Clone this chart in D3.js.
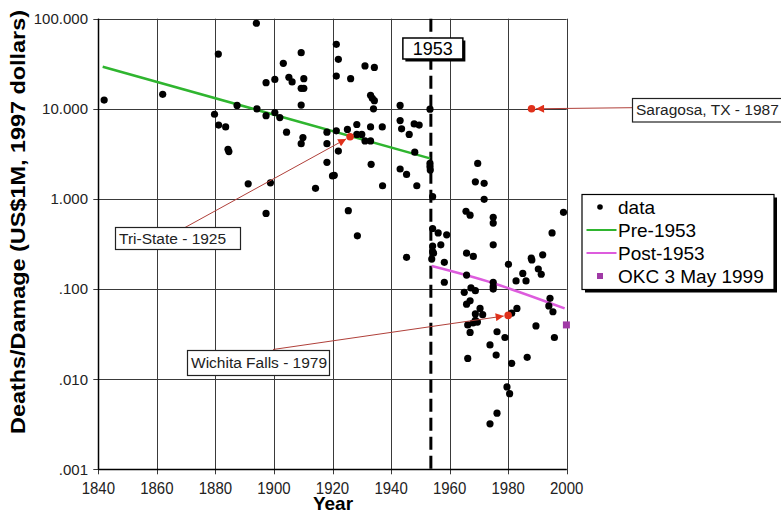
<!DOCTYPE html>
<html><head><meta charset="utf-8">
<script src="https://cdn.jsdelivr.net/npm/d3@7"></script>
<style>html,body{margin:0;padding:0;background:#fff;} svg{display:block;font-family:"Liberation Sans",Arial,sans-serif;}</style>
</head><body><svg id="c" width="781" height="513"></svg>
<script>
// ---------- data ----------
const xTicks = [1840, 1860, 1880, 1900, 1920, 1940, 1960, 1980, 2000];
const yTicks = [0.001, 0.01, 0.1, 1, 10, 100];
const yTickLabels = [".001", ".010", ".100", "1.000", "10.000", "100.000"];
const xTitle = "Year";
const yTitle = "Deaths/Damage (US$1M, 1997 dollars)";

// [year, deaths per US$1M damage]
const points = [
  [1842,12.5],[1862,14.5],[1881,40.5],[1894,89],[1887.4,10.9],[1894.2,10.0],[1879.7,8.7],[1881.1,6.6],
  [1883.5,6.3],[1884.3,3.55],[1884.6,3.35],[1891.2,1.47],[1909.3,42],[1903.2,32],[1897.3,19.5],[1900.3,21.2],
  [1905.1,22.4],[1906.2,19.9],[1910.2,21.6],[1909.3,16.9],[1910.2,16.9],[1909.3,11.0],[1921.3,52],[1922.0,35.4],
  [1921.3,23.1],[1926.2,21.6],[1931.1,29.9],[1934.3,28.8],[1933,14.1],[1933.6,13.1],[1934.3,12.3],[1934,10.0],
  [1943.1,10.9],[1953.3,9.9],[1897.3,8.4],[1900.3,9.1],[1902,8.0],[1904.3,5.5],[1909.9,4.8],[1909.3,4.1],
  [1918.1,5.5],[1918.1,4.1],[1921.3,5.7],[1925.1,5.9],[1928.3,6.7],[1928.3,5.2],[1930,5.2],[1931.1,4.4],
  [1933,4.4],[1933,6.3],[1937,6.3],[1922,3.4],[1918.1,2.55],[1920,1.8],[1920.6,1.83],[1914.2,1.31],
  [1933.2,2.42],[1937.1,1.40],[1943.1,7.4],[1943.6,6.0],[1946.2,5.2],[1947.9,6.8],[1949.6,6.6],[1948.1,3.3],
  [1943.1,2.15],[1945.3,1.87],[1948.8,1.40],[1953.3,2.48],[1953.3,2.28],[1953.4,2.09],[1954.2,1.06],[1898.8,1.51],
  [1897.3,0.69],[1925.4,0.74],[1928.5,0.39],[1945.3,0.225],
  [1954.2,0.47],[1956.1,0.42],[1959,0.40],[1954.2,0.30],[1957,0.31],[1954.2,0.26],[1954.5,0.25],[1953.9,0.215],
  [1958.2,0.198],[1958.2,0.119],[1969.6,2.48],[1968.8,1.55],[1971.8,1.49],[1971.8,0.99],[1965.6,0.73],[1967,0.66],
  [1974.9,0.625],[1974.9,0.54],[1974.9,0.31],[1998.9,0.71],[1995,0.42],[1965.8,0.25],[1968.1,0.23],[1987.9,0.22],
  [1991.8,0.24],[1965.8,0.143],[1965,0.092],[1967.3,0.103],[1968.8,0.096],[1967,0.074],[1965.8,0.068],[1970.4,0.061],
  [1968.8,0.053],[1971.3,0.052],[1968.8,0.045],[1968,0.042],[1969.5,0.043],[1966.2,0.040],[1967,0.033],[1966.2,0.017],
  [1974.9,0.119],[1974.9,0.107],[1974.9,0.10],[1973.8,0.024],[1975.9,0.0185],[1976.2,0.0336],[1978.9,0.029],
  [1980.1,0.188],[1981.2,0.054],[1983,0.061],[1981.2,0.015],[1979.6,0.0082],[1980.5,0.0069],[1976.2,0.0042],
  [1973.8,0.0032],[1982.7,0.123],[1985,0.149],[1986.1,0.123],[1988.1,0.21],[1990.3,0.167],[1991.3,0.146],
  [1994.3,0.079],[1993.9,0.065],[1995.3,0.056],[1989.5,0.039],[1995.8,0.029],[1986.5,0.0175]
];
const preFit = [[1841.5,29.3],[1953.3,2.82]];
const postFit = [[1953.9,0.18],[1975,0.116],[1999.3,0.061]];
const okc = [[1999.9,0.040]];
const dividerYear = 1953.6;
const dividerLabel = "1953";
const annotations = [
  {label:"Tri-State - 1925", year:1926, value:4.9},
  {label:"Wichita Falls - 1979", year:1980, value:0.051},
  {label:"Saragosa, TX - 1987", year:1988, value:10}
];
const legendItems = ["data", "Pre-1953", "Post-1953", "OKC 3 May 1999"];

// ---------- layout ----------
const svg = d3.select("#c");
const x = d3.scaleLinear().domain([1840, 2000]).range([98.3, 566.7]);
const y = d3.scaleLog().domain([0.001, 100]).range([469.3, 18.7]);
const X0 = x.range()[0], X1 = x.range()[1], Y0 = y.range()[0], Y1 = y.range()[1];

// grid
const grid = svg.append("g").attr("stroke", "#3a3a3a").attr("stroke-width", 1);
grid.selectAll("line.v").data(xTicks).join("line")
  .attr("x1", d => Math.round(x(d)) + 0.5).attr("x2", d => Math.round(x(d)) + 0.5)
  .attr("y1", Y1).attr("y2", Y0 + 5);
grid.selectAll("line.h").data(yTicks).join("line")
  .attr("y1", d => Math.round(y(d)) + 0.5).attr("y2", d => Math.round(y(d)) + 0.5)
  .attr("x1", X0 - 5).attr("x2", X1);
// axis lines
svg.append("line").attr("x1", Math.round(X0)+0.5).attr("x2", Math.round(X0)+0.5).attr("y1", Y1).attr("y2", Y0)
  .attr("stroke", "#000").attr("stroke-width", 1.5);
svg.append("line").attr("x1", X0).attr("x2", X1).attr("y1", Math.round(Y0)+0.5).attr("y2", Math.round(Y0)+0.5)
  .attr("stroke", "#000").attr("stroke-width", 1.5);

// tick labels
svg.append("g").selectAll("text").data(yTicks).join("text")
  .attr("x", 88).attr("y", d => y(d)).attr("dy", "0.36em")
  .attr("text-anchor", "end").attr("font-size", 15).attr("fill", "#222")
  .text((d, i) => yTickLabels[i]);
svg.append("g").selectAll("text").data(xTicks).join("text")
  .attr("transform", d => `translate(${x(d)},${Y0 + 24.5}) scale(1,1.15)`)
  .attr("text-anchor", "middle").attr("font-size", 15).attr("fill", "#222")
  .text(d => d);

// titles
svg.append("text").attr("transform", `translate(333,509.5)`)
  .attr("text-anchor", "middle").attr("font-size", 19).attr("font-weight", "bold").text(xTitle);
svg.append("text").attr("transform", `translate(25,222) rotate(-90)`)
  .attr("text-anchor", "middle").attr("font-size", 20).attr("font-weight", "bold")
  .attr("textLength", 424).attr("lengthAdjust", "spacingAndGlyphs").text(yTitle);

// divider
const dx = x(dividerYear);
svg.append("line").attr("x1", dx).attr("x2", dx).attr("y1", Y1).attr("y2", Y0)
  .attr("stroke", "#000").attr("stroke-width", 3).attr("stroke-dasharray", "13,6");

// fit lines
const line = d3.line().x(d => x(d[0])).y(d => y(d[1]));
svg.append("path").attr("d", line(preFit)).attr("fill", "none").attr("stroke", "#2fb52f").attr("stroke-width", 2.5);
svg.append("path").attr("d", line.curve(d3.curveNatural)(postFit)).attr("fill", "none").attr("stroke", "#dd5cdd").attr("stroke-width", 2.5);

// data points
svg.append("g").selectAll("circle").data(points).join("circle")
  .attr("cx", d => x(d[0])).attr("cy", d => y(d[1])).attr("r", 3.6).attr("fill", "#000");

// OKC
svg.append("g").selectAll("rect").data(okc).join("rect")
  .attr("x", d => x(d[0]) - 3.5).attr("y", d => y(d[1]) - 3.5).attr("width", 7).attr("height", 7).attr("fill", "#a03aa6");

// annotations
const defs = svg.append("defs");
defs.append("marker").attr("id", "ah").attr("viewBox", "0 0 10 10").attr("refX", 10).attr("refY", 5)
  .attr("markerWidth", 9).attr("markerHeight", 8).attr("markerUnits", "userSpaceOnUse").attr("orient", "auto")
  .append("path").attr("d", "M0,0 L10,5 L0,10 Z").attr("fill", "#e0301a");
const annoLayout = {
  "Tri-State - 1925": {bx:115, by:227, bw:125, bh:22, sx:185, sy:227.5},
  "Wichita Falls - 1979": {bx:187, by:350, bw:142, bh:25, sx:273, sy:349.5},
  "Saragosa, TX - 1987": {bx:632, by:98, bw:160, bh:23.5, sx:632, sy:107.7}
};
annotations.forEach(a => {
  const L = annoLayout[a.label];
  const tx = x(a.year), ty = y(a.value);
  const ang = Math.atan2(ty - L.sy, tx - L.sx);
  const ex = tx - Math.cos(ang) * 4.5, ey = ty - Math.sin(ang) * 4.5;
  svg.append("line").attr("x1", L.sx).attr("y1", L.sy).attr("x2", ex).attr("y2", ey)
    .attr("stroke", "#b0403a").attr("stroke-width", 1).attr("marker-end", "url(#ah)");
  svg.append("circle").attr("cx", tx).attr("cy", ty).attr("r", 3.8).attr("fill", "#e0301a");
  svg.append("rect").attr("x", L.bx + 0.5).attr("y", L.by + 0.5).attr("width", L.bw).attr("height", L.bh)
    .attr("fill", "#fff").attr("stroke", "#222").attr("stroke-width", 1.2);
  svg.append("text").attr("x", L.bx + 4).attr("y", L.by + L.bh / 2).attr("dy", "0.36em")
    .attr("font-size", 15.5).attr("fill", "#222").text(a.label);
});

// divider label box
const b = {x: dx - 28, y: 38, w: 60, h: 21};
svg.append("rect").attr("x", b.x + 2.5).attr("y", b.y + 2.5).attr("width", b.w).attr("height", b.h).attr("fill", "#000");
svg.append("rect").attr("x", b.x).attr("y", b.y).attr("width", b.w).attr("height", b.h)
  .attr("fill", "#fff").attr("stroke", "#000").attr("stroke-width", 1.5);
svg.append("text").attr("x", b.x + b.w / 2).attr("y", b.y + b.h / 2).attr("dy", "0.36em")
  .attr("text-anchor", "middle").attr("font-size", 18).attr("fill", "#000").text(dividerLabel);

// legend
const lg = svg.append("g").attr("transform", "translate(582,194.5)");
lg.append("rect").attr("x", 3).attr("y", 3).attr("width", 192).attr("height", 95).attr("fill", "#000");
lg.append("rect").attr("x", 0).attr("y", 0).attr("width", 192).attr("height", 95)
  .attr("fill", "#fff").attr("stroke", "#000").attr("stroke-width", 1.2);
const rowY = i => 12.5 + i * 23;
legendItems.forEach((t, i) => {
  const yy = rowY(i);
  if (i === 0) lg.append("circle").attr("cx", 18).attr("cy", yy).attr("r", 2.8).attr("fill", "#000");
  if (i === 1) lg.append("line").attr("x1", 4.5).attr("x2", 34.5).attr("y1", yy).attr("y2", yy).attr("stroke", "#2fb52f").attr("stroke-width", 2);
  if (i === 2) lg.append("line").attr("x1", 4.5).attr("x2", 34.5).attr("y1", yy).attr("y2", yy).attr("stroke", "#dd5cdd").attr("stroke-width", 2);
  if (i === 3) lg.append("rect").attr("x", 15).attr("y", yy - 3).attr("width", 6).attr("height", 6).attr("fill", "#a03aa6");
  lg.append("text").attr("x", 36).attr("y", yy).attr("dy", "0.36em").attr("font-size", 19).attr("fill", "#000").text(t);
});
</script>
</body></html>
